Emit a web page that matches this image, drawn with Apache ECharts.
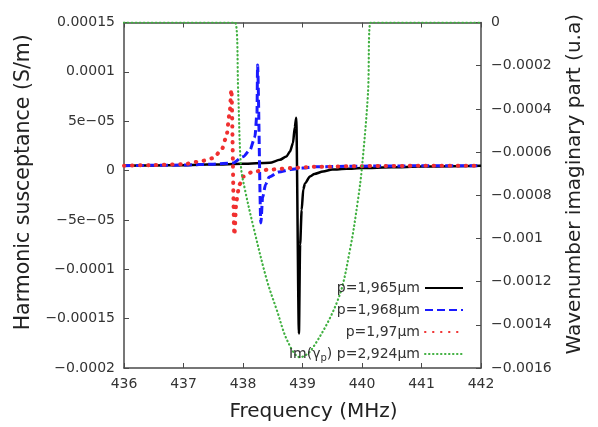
<!DOCTYPE html>
<html>
<head>
<meta charset="utf-8">
<script src="https://cdn.jsdelivr.net/npm/echarts@6/dist/echarts.min.js"></script>
<style>
html,body{margin:0;padding:0;background:#fff;}
#chart{width:598px;height:427px;}
</style>
</head>
<body>
<div id="chart"></div>
<script>
// ---- data ----
var xTicks = ['436','437','438','439','440','441','442'];
var leftTickLabels = ['\u22120.0002','\u22120.00015','\u22120.0001','\u22125e\u221205','0','5e\u221205','0.0001','0.00015'];
var rightTickLabels = ['\u22120.0016','\u22120.0014','\u22120.0012','\u22120.001','\u22120.0008','\u22120.0006','\u22120.0004','\u22120.0002','0'];

var seriesNames = ['p=1,965\u03bcm','p=1,968\u03bcm','p=1,97\u03bcm','Im(\u03b3p) p=2,924\u03bcm'];

var p1965 = [[436.0,5.0e-6],[436.5,5.2e-6],[437.0,5.5e-6],[437.28,5.9e-6],[437.5,6.2e-6],[438.0,6.8e-6],[438.45,7.9e-6],[438.62,1.09e-5],[438.73,1.43e-5],[438.79,1.93e-5],[438.84,2.8e-5],[438.87,4.4e-5],[438.895,5.35e-5],
  [438.94,-1.65e-4],[438.96,-7.5e-5],[438.986,-4.0e-5],[439.013,-1.9e-5],[439.042,-1.3e-5],[439.126,-6.0e-6],[439.2,-3.5e-6],[439.345,-1.0e-6],[439.5,1.0e-6],[439.74,1.8e-6],[440.0,2.5e-6],[440.5,3.3e-6],[441.0,4.0e-6],[442.0,4.8e-6]];

var p1968 = [[436.0,5.0e-6],[436.5,5.3e-6],[437.0,5.6e-6],[437.5,6.5e-6],[437.83,7.6e-6],[438.0,1.4e-5],[438.118,2.1e-5],[438.2,3.4e-5],[438.235,5.8e-5],[438.245,1.07e-4],
  [438.3,-5.3e-5],[438.33,-2.7e-5],[438.38,-1.4e-5],[438.44,-6.5e-6],[438.6,-1.5e-6],[438.8,1.0e-6],[439.0,2.5e-6],[439.2,3.8e-6],[440.0,4.5e-6],[441.0,4.8e-6],[442.0,5.0e-6]];

var p197 = [[436.0,5.0e-6],[436.5,5.5e-6],[437.0,6.5e-6],[437.277,9.2e-6],[437.5,1.26e-5],[437.64,2.1e-5],[437.72,3.4e-5],[437.775,5.8e-5],[437.805,8.2e-5],
  [437.855,-6.5e-5],[437.89,-3.0e-5],[437.94,-1.4e-5],[438.005,-6.0e-6],[438.17,-1.0e-6],[438.45,1.0e-6],[438.8,2.5e-6],[439.2,3.8e-6],[440.0,4.5e-6],[441.0,4.8e-6],[442.0,5.0e-6]];

var imGamma = [[436.0,0],[437.0,0],[437.865,0],[437.92,-0.00033],[437.966,-0.000668],[438.034,-0.000775],[438.173,-0.000944],[438.398,-0.00119],[438.566,-0.00133],[438.756,-0.00148],[438.958,-0.00155],
  [439.155,-0.001514],[439.597,-0.001283],[439.798,-0.001052],[439.933,-0.00082],[440.0,-0.000668],[440.1,-0.00033],[440.146,0],[441.0,0],[442.0,0]];

// ---- chart ----
var FONT = 'DejaVu Sans';
var axisCol = '#4a4a4a';
var chart = echarts.init(document.getElementById('chart'), null, {renderer:'canvas'});

var leftMin = -0.0002, leftStep = 0.00005;
var rightMin = -0.0016, rightStep = 0.0002;

var option = {
  backgroundColor: '#fff',
  animation: false,
  grid: {left:124, right:117, top:22.5, bottom:58.5, containLabel:false},
  legend: {
    orient:'vertical', right:129, top:276, align:'right',
    itemWidth:38, itemHeight:14, itemGap:8,
    itemStyle:{opacity:0},
    data: seriesNames,
    textStyle:{fontFamily:FONT, fontSize:14, color:'#333',
      rich:{n:{fontFamily:FONT,fontSize:14,color:'#333'}, s:{fontFamily:FONT,fontSize:10,color:'#333',padding:[8,0,0,0]}}},
    formatter: function(name){
      if (name === seriesNames[3]) return '{n|Im(\u03b3}{s|p}{n|) p=2,924\u03bcm}';
      return name;
    }
  },
  xAxis: [{
    type:'value', min:436, max:442, interval:1, position:'bottom',
    name:'Frequency (MHz)', nameLocation:'middle', nameGap:34,
    nameTextStyle:{fontFamily:FONT, fontSize:20, color:'#222', padding:[0,0,0,22]},
    axisLine:{show:true, onZero:false, lineStyle:{color:axisCol, width:1.5}},
    axisTick:{show:true, inside:true, length:5, lineStyle:{color:axisCol}},
    axisLabel:{fontFamily:FONT, fontSize:14, color:'#333', margin:9,
      formatter:function(v){ return xTicks[Math.round(v-436)]; }},
    splitLine:{show:false}
  },{
    type:'value', min:436, max:442, interval:1, position:'top',
    axisLine:{show:true, onZero:false, lineStyle:{color:axisCol, width:1.5}},
    axisTick:{show:true, inside:true, length:5, lineStyle:{color:axisCol}},
    axisLabel:{show:false}, splitLine:{show:false}
  }],
  yAxis: [{
    type:'value', min:leftMin, max:0.00015, interval:leftStep, position:'left',
    name:'Harmonic susceptance (S/m)', nameLocation:'middle', nameGap:86, nameRotate:90,
    nameTextStyle:{fontFamily:FONT, fontSize:20.5, color:'#222', padding:[0,0,0,26]},
    axisLine:{show:true, onZero:false, lineStyle:{color:axisCol, width:1.5}},
    axisTick:{show:true, inside:true, length:5, lineStyle:{color:axisCol}},
    axisLabel:{fontFamily:FONT, fontSize:14, color:'#333', margin:9,
      formatter:function(v){ return leftTickLabels[Math.round((v-leftMin)/leftStep)]; }},
    splitLine:{show:false}
  },{
    type:'value', min:rightMin, max:0, interval:rightStep, position:'right',
    name:'Wavenumber imaginary part (u.a)', nameLocation:'middle', nameGap:84, nameRotate:90,
    nameTextStyle:{fontFamily:FONT, fontSize:20, color:'#222', padding:[0,0,0,22]},
    axisLine:{show:true, onZero:false, lineStyle:{color:axisCol, width:1.5}},
    axisTick:{show:true, inside:true, length:5, lineStyle:{color:axisCol}},
    axisLabel:{fontFamily:FONT, fontSize:14, color:'#333', margin:10,
      formatter:function(v){ return rightTickLabels[Math.round((v-rightMin)/rightStep)]; }},
    splitLine:{show:false}
  }],
  series: [{
    name:seriesNames[0], type:'line', yAxisIndex:0, data:p1965, symbol:'none',
    smooth:0.25, smoothMonotone:'x',
    lineStyle:{color:'#000', width:2.5, type:'solid'}, itemStyle:{color:'#000'}
  },{
    name:seriesNames[1], type:'line', yAxisIndex:0, data:p1968, symbol:'none',
    smooth:0.25, smoothMonotone:'x',
    lineStyle:{color:'#1a1aff', width:3, type:[8,4]}, itemStyle:{color:'#1a1aff'}
  },{
    name:seriesNames[2], type:'line', yAxisIndex:0, data:p197, symbol:'none',
    smooth:0.25, smoothMonotone:'x',
    lineStyle:{color:'#f03030', width:4, type:[0.5,7.5], cap:'round'}, itemStyle:{color:'#f03030'}
  },{
    name:seriesNames[3], type:'line', yAxisIndex:1, data:imGamma, symbol:'none',
    smooth:0.35,
    lineStyle:{color:'#40b040', width:2.2, type:[0.5,3.5], cap:'round'}, itemStyle:{color:'#40b040'}
  }]
};
chart.setOption(option);
</script>
</body>
</html>
